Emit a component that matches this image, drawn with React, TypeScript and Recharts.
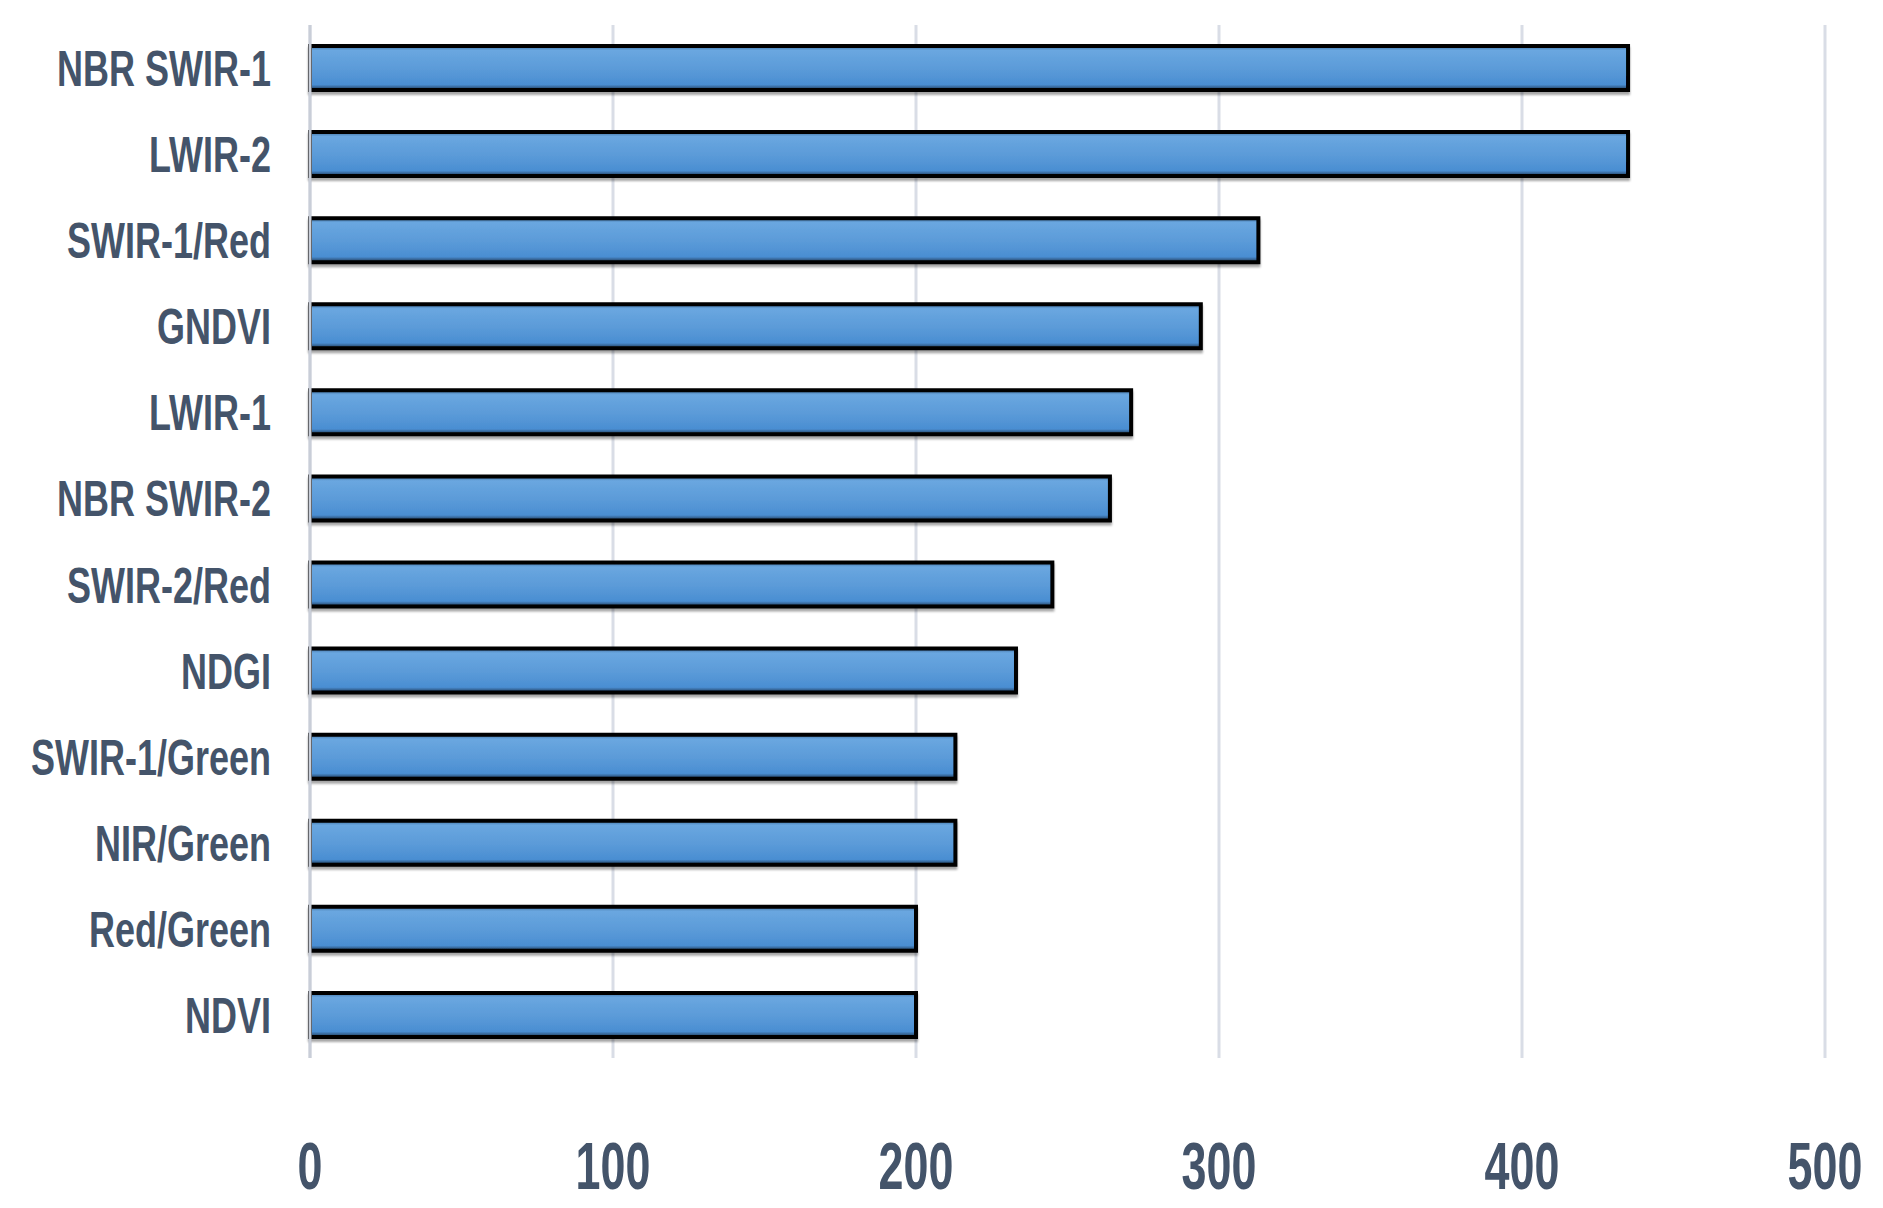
import React from "react";
import { BarChart, Bar, XAxis, YAxis, CartesianGrid } from "recharts";

const categories = [
  "NBR SWIR-1",
  "LWIR-2",
  "SWIR-1/Red",
  "GNDVI",
  "LWIR-1",
  "NBR SWIR-2",
  "SWIR-2/Red",
  "NDGI",
  "SWIR-1/Green",
  "NIR/Green",
  "Red/Green",
  "NDVI",
];
const values = [435, 435, 313, 294, 271, 264, 245, 233, 213, 213, 200, 200];
const xTicks = [0, 100, 200, 300, 400, 500];

const data = categories.map((name, i) => ({ name, value: values[i] }));

const textColor = "#44546A";
const font = "'Liberation Sans', Arial, sans-serif";

function CategoryTick(props: any) {
  const { x, y, payload } = props;
  return (
    <g transform={`translate(${x},${y})`}>
      <text
        transform="scale(0.72,1)"
        textAnchor="end"
        dy="0.36em"
        fill={textColor}
        fontSize={50}
        fontWeight="bold"
        fontFamily={font}
      >
        {payload.value}
      </text>
    </g>
  );
}

function ValueTick(props: any) {
  const { x, y, payload } = props;
  return (
    <g transform={`translate(${x},${y})`}>
      <text
        transform="scale(0.68,1)"
        textAnchor="middle"
        dy="0.36em"
        fill={textColor}
        fontSize={66}
        fontWeight="bold"
        fontFamily={font}
      >
        {payload.value}
      </text>
    </g>
  );
}

export default function App() {
  return (
    <BarChart
      width={1875}
      height={1200}
      data={data}
      layout="vertical"
      margin={{ top: 17, right: 58, bottom: 10, left: 22 }}
      barCategoryGap={40}
    >
      <defs>
        <linearGradient id="barFill" x1="0" y1="0" x2="0" y2="1">
          <stop offset="0%" stopColor="#3E6E9E" />
          <stop offset="10%" stopColor="#6AA7E0" />
          <stop offset="55%" stopColor="#5A9AD8" />
          <stop offset="88%" stopColor="#4A8ED2" />
          <stop offset="100%" stopColor="#1E3550" />
        </linearGradient>
        <filter id="barShadow" x="-5%" y="-20%" width="110%" height="150%">
          <feDropShadow dx="0" dy="3" stdDeviation="1.2" floodColor="#000" floodOpacity="0.35" />
        </filter>
      </defs>
      <CartesianGrid horizontal={false} stroke="#D9DDE6" strokeWidth={3} />
      <XAxis
        type="number"
        domain={[0, 500]}
        ticks={xTicks}
        axisLine={false}
        tickLine={false}
        tickSize={0}
        tickMargin={107}
        height={140}
        tick={<ValueTick />}
        interval={0}
      />
      <YAxis
        type="category"
        dataKey="name"
        width={280}
        axisLine={{ stroke: "#C9CED8", strokeWidth: 3 }}
        tickLine={false}
        tickSize={0}
        tickMargin={39}
        tick={<CategoryTick />}
        interval={0}
      />
      <Bar
        dataKey="value"
        fill="url(#barFill)"
        stroke="#000"
        strokeWidth={4}
        barSize={44}
        filter="url(#barShadow)"
        isAnimationActive={false}
      />
    </BarChart>
  );
}
